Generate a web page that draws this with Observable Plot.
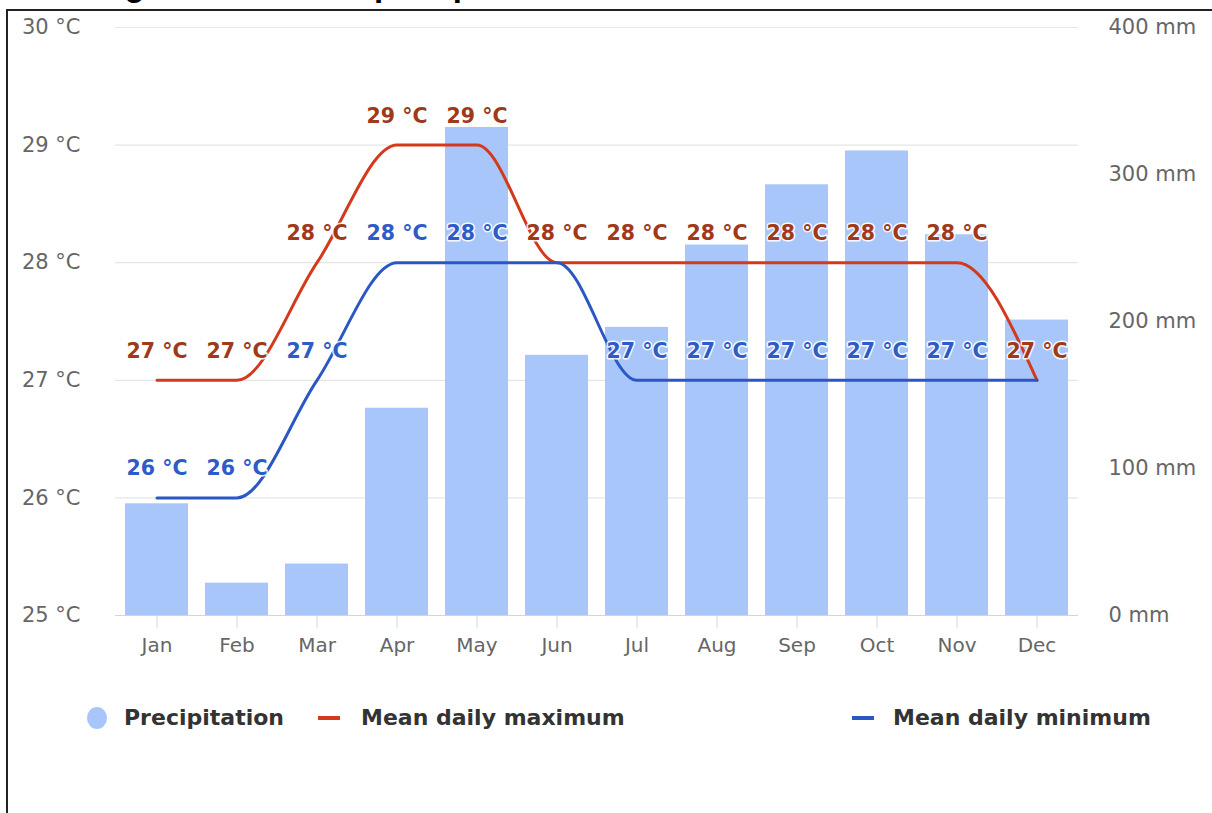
<!DOCTYPE html>
<html>
<head>
<meta charset="utf-8">
<script src="https://cdn.jsdelivr.net/npm/d3@7"></script>
<script src="https://cdn.jsdelivr.net/npm/@observablehq/plot@0.6"></script>
<style>
  html, body { margin: 0; padding: 0; background: #fff; width: 1212px; height: 813px; overflow: hidden; }
  #title { position: absolute; left: 34px; top: -32px; font: bold 33px "Liberation Sans", Arial, sans-serif; line-height: 33px; color: #000; white-space: nowrap; }
  #frame { position: absolute; left: 6px; top: 9px; width: 1220px; height: 820px; border-left: 2px solid #222; border-top: 2px solid #222; box-sizing: border-box; background: transparent; }
  #chart { position: absolute; left: 0; top: 0; }
  .leg { position: absolute; font: bold 22px "DejaVu Sans", sans-serif; color: #333; white-space: nowrap; line-height: 26px; }
  .sw { position: absolute; }
</style>
</head>
<body>
<div id="title">Average weather and precipitation</div>
<div id="frame"></div>
<div id="chart"></div>
<div id="legend"></div>
<script>
const months = ["Jan","Feb","Mar","Apr","May","Jun","Jul","Aug","Sep","Oct","Nov","Dec"];
const precipitation = [76, 22, 35, 141, 332, 177, 196, 252, 293, 316, 259, 201];
const meanMax = [27, 27, 28, 29, 29, 28, 28, 28, 28, 28, 28, 27];
const meanMin = [26, 26, 27, 28, 28, 28, 27, 27, 27, 27, 27, 27];
const tempTicks = [25, 26, 27, 28, 29, 30];
const precipTicks = [0, 100, 200, 300, 400];
const tempDomain = [25, 30];
const precipDomain = [0, 400];

const seriesNames = ["Precipitation", "Mean daily maximum", "Mean daily minimum"];
const colors = { bar: "#a8c6fa", max: "#d4391b", min: "#2b57c5", maxLabel: "#a0391a", minLabel: "#2d5cc6" };

// map precipitation onto the temperature axis (dual axis)
const p2t = d3.scaleLinear(precipDomain, tempDomain);
const t2p = d3.scaleLinear(tempDomain, precipDomain);

const rows = months.map((m, i) => ({ month: m, precip: precipitation[i], max: meanMax[i], min: meanMin[i] }));
const minLabelRows = rows.filter(d => d.min !== d.max);
const fmtT = d => `${d} °C`;

const chart = Plot.plot({
  width: 1212,
  height: 680,
  marginLeft: 115,
  marginRight: 134,
  marginTop: 27,
  marginBottom: 65,
  style: { fontFamily: "DejaVu Sans, sans-serif", fontSize: "20px", background: "transparent", overflow: "visible" },
  x: { type: "band", domain: months, paddingInner: 0.21, paddingOuter: 0.105, label: null },
  y: { domain: tempDomain, label: null },
  marks: [
    Plot.ruleY(tempTicks.slice(1), { stroke: "#e6e6e6", strokeWidth: 1.2 }),
    Plot.barY(rows, { x: "month", y1: tempDomain[0], y2: d => p2t(d.precip), fill: colors.bar }),
    Plot.ruleY([tempDomain[0]], { stroke: "#ccd6eb", strokeWidth: 1.2 }),
    Plot.axisY({ anchor: "left", ticks: tempTicks, tickFormat: fmtT, tickSize: 0, tickPadding: 35, fill: "#666", fontSize: 21, label: null }),
    Plot.axisY({ anchor: "right", ticks: precipTicks.map(p => +p2t(p).toFixed(6)), tickFormat: d => `${Math.round(t2p(d))} mm`, tickSize: 0, tickPadding: 30, fill: "#666", fontSize: 21, label: null }),
    Plot.axisX({ tickSize: 13, tickPadding: 9, stroke: "#ccd6eb", fill: "#666", fontSize: 20, label: null }),
    Plot.line(rows, { x: "month", y: "max", stroke: colors.max, strokeWidth: 3, curve: "monotone-x" }),
    Plot.line(rows, { x: "month", y: "min", stroke: colors.min, strokeWidth: 3, curve: "monotone-x" }),
    Plot.text(rows, { x: "month", y: "max", text: d => fmtT(d.max), dy: -29, fill: colors.maxLabel, fontWeight: "bold", fontSize: 20.5, stroke: "white", strokeWidth: 3, strokeOpacity: 0.9 }),
    Plot.text(minLabelRows, { x: "month", y: "min", text: d => fmtT(d.min), dy: -29, fill: colors.minLabel, fontWeight: "bold", fontSize: 20.5, stroke: "white", strokeWidth: 3, strokeOpacity: 0.9 })
  ]
});
document.getElementById("chart").appendChild(chart);

// legend
const legend = document.getElementById("legend");
const items = [
  { name: seriesNames[0], kind: "circle", color: colors.bar, sx: 87, tx: 124 },
  { name: seriesNames[1], kind: "dash", color: colors.max, sx: 318, tx: 361 },
  { name: seriesNames[2], kind: "dash", color: colors.min, sx: 852, tx: 893 }
];
const cy = 718;
for (const it of items) {
  const sw = document.createElement("div");
  sw.className = "sw";
  if (it.kind === "circle") {
    Object.assign(sw.style, { left: it.sx + "px", top: (cy - 11) + "px", width: "20px", height: "22px", borderRadius: "50%", background: it.color });
  } else {
    Object.assign(sw.style, { left: it.sx + "px", top: (cy - 2) + "px", width: "22px", height: "4px", background: it.color });
  }
  legend.appendChild(sw);
  const t = document.createElement("div");
  t.className = "leg";
  t.textContent = it.name;
  Object.assign(t.style, { left: it.tx + "px", top: (cy - 13) + "px" });
  legend.appendChild(t);
}
</script>
</body>
</html>
